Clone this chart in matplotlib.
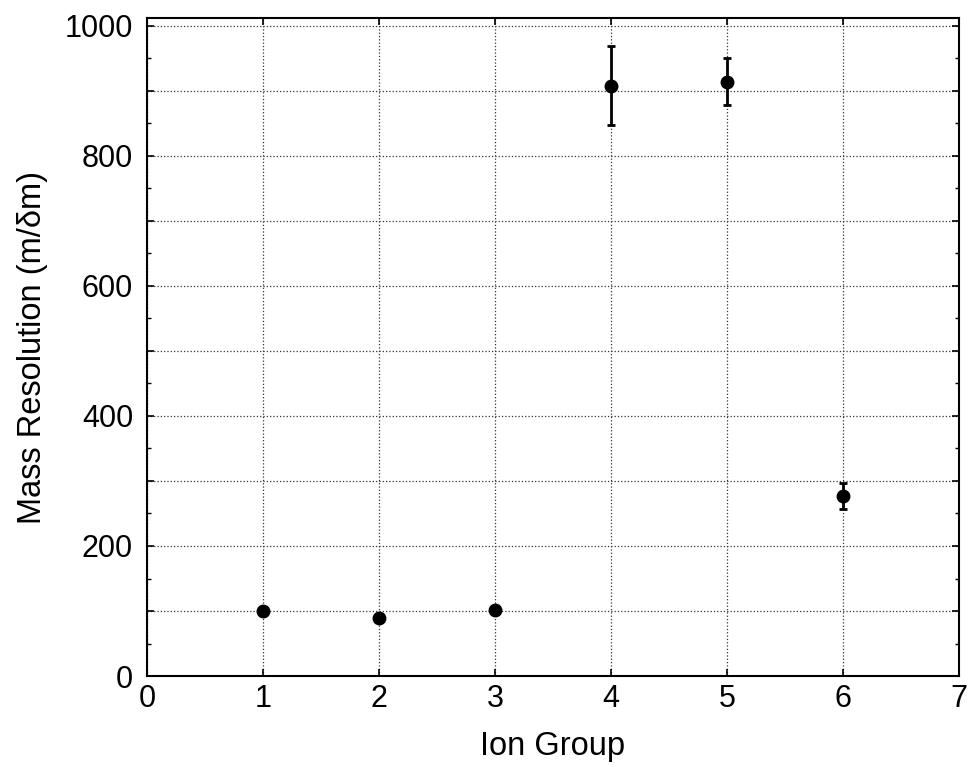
import matplotlib
matplotlib.use("Agg")
import matplotlib.pyplot as plt
from matplotlib.ticker import MultipleLocator, FuncFormatter

# dane
ion_group = [1, 2, 3, 4, 5, 6]
resolution = [100, 89, 101, 908, 914, 277]
res_err = [0, 0, 0, 61, 36, 20]

plt.rcParams['font.family'] = ['Liberation Sans', 'DejaVu Sans']

fig = plt.figure(figsize=(9.69, 7.67), dpi=100)
ax = fig.add_axes([0.1517, 0.1186, 0.8380, 0.8579])

ax.errorbar(ion_group, resolution, yerr=res_err, fmt='o', color='black',
            markersize=9, elinewidth=2.0, capsize=3, capthick=2.0, zorder=3)

ax.set_xlim(0, 7)
ax.set_ylim(0, 1012)
ax.xaxis.set_major_locator(MultipleLocator(1))
ax.yaxis.set_major_locator(MultipleLocator(100))
ax.yaxis.set_minor_locator(MultipleLocator(50))
ax.yaxis.set_major_formatter(FuncFormatter(lambda v, p: f"{int(v)}" if int(round(v)) % 200 == 0 else ""))

ax.grid(True, which='major', linestyle=':', color='#333333', linewidth=0.9)
ax.tick_params(which='both', direction='in', top=True, right=True, labelsize=22)
ax.tick_params(which='major', length=5, width=1.2)
ax.tick_params(which='minor', length=3, width=1.0)
ax.tick_params(axis='x', pad=6)
ax.tick_params(axis='y', pad=10)
for s in ax.spines.values():
    s.set_linewidth(1.5)

ax.set_xlabel('Ion Group', fontsize=23.5, labelpad=12)
ax.set_ylabel('Mass Resolution (m/δm)', fontsize=23.5, labelpad=12)

fig.savefig("out.png", dpi=100)
